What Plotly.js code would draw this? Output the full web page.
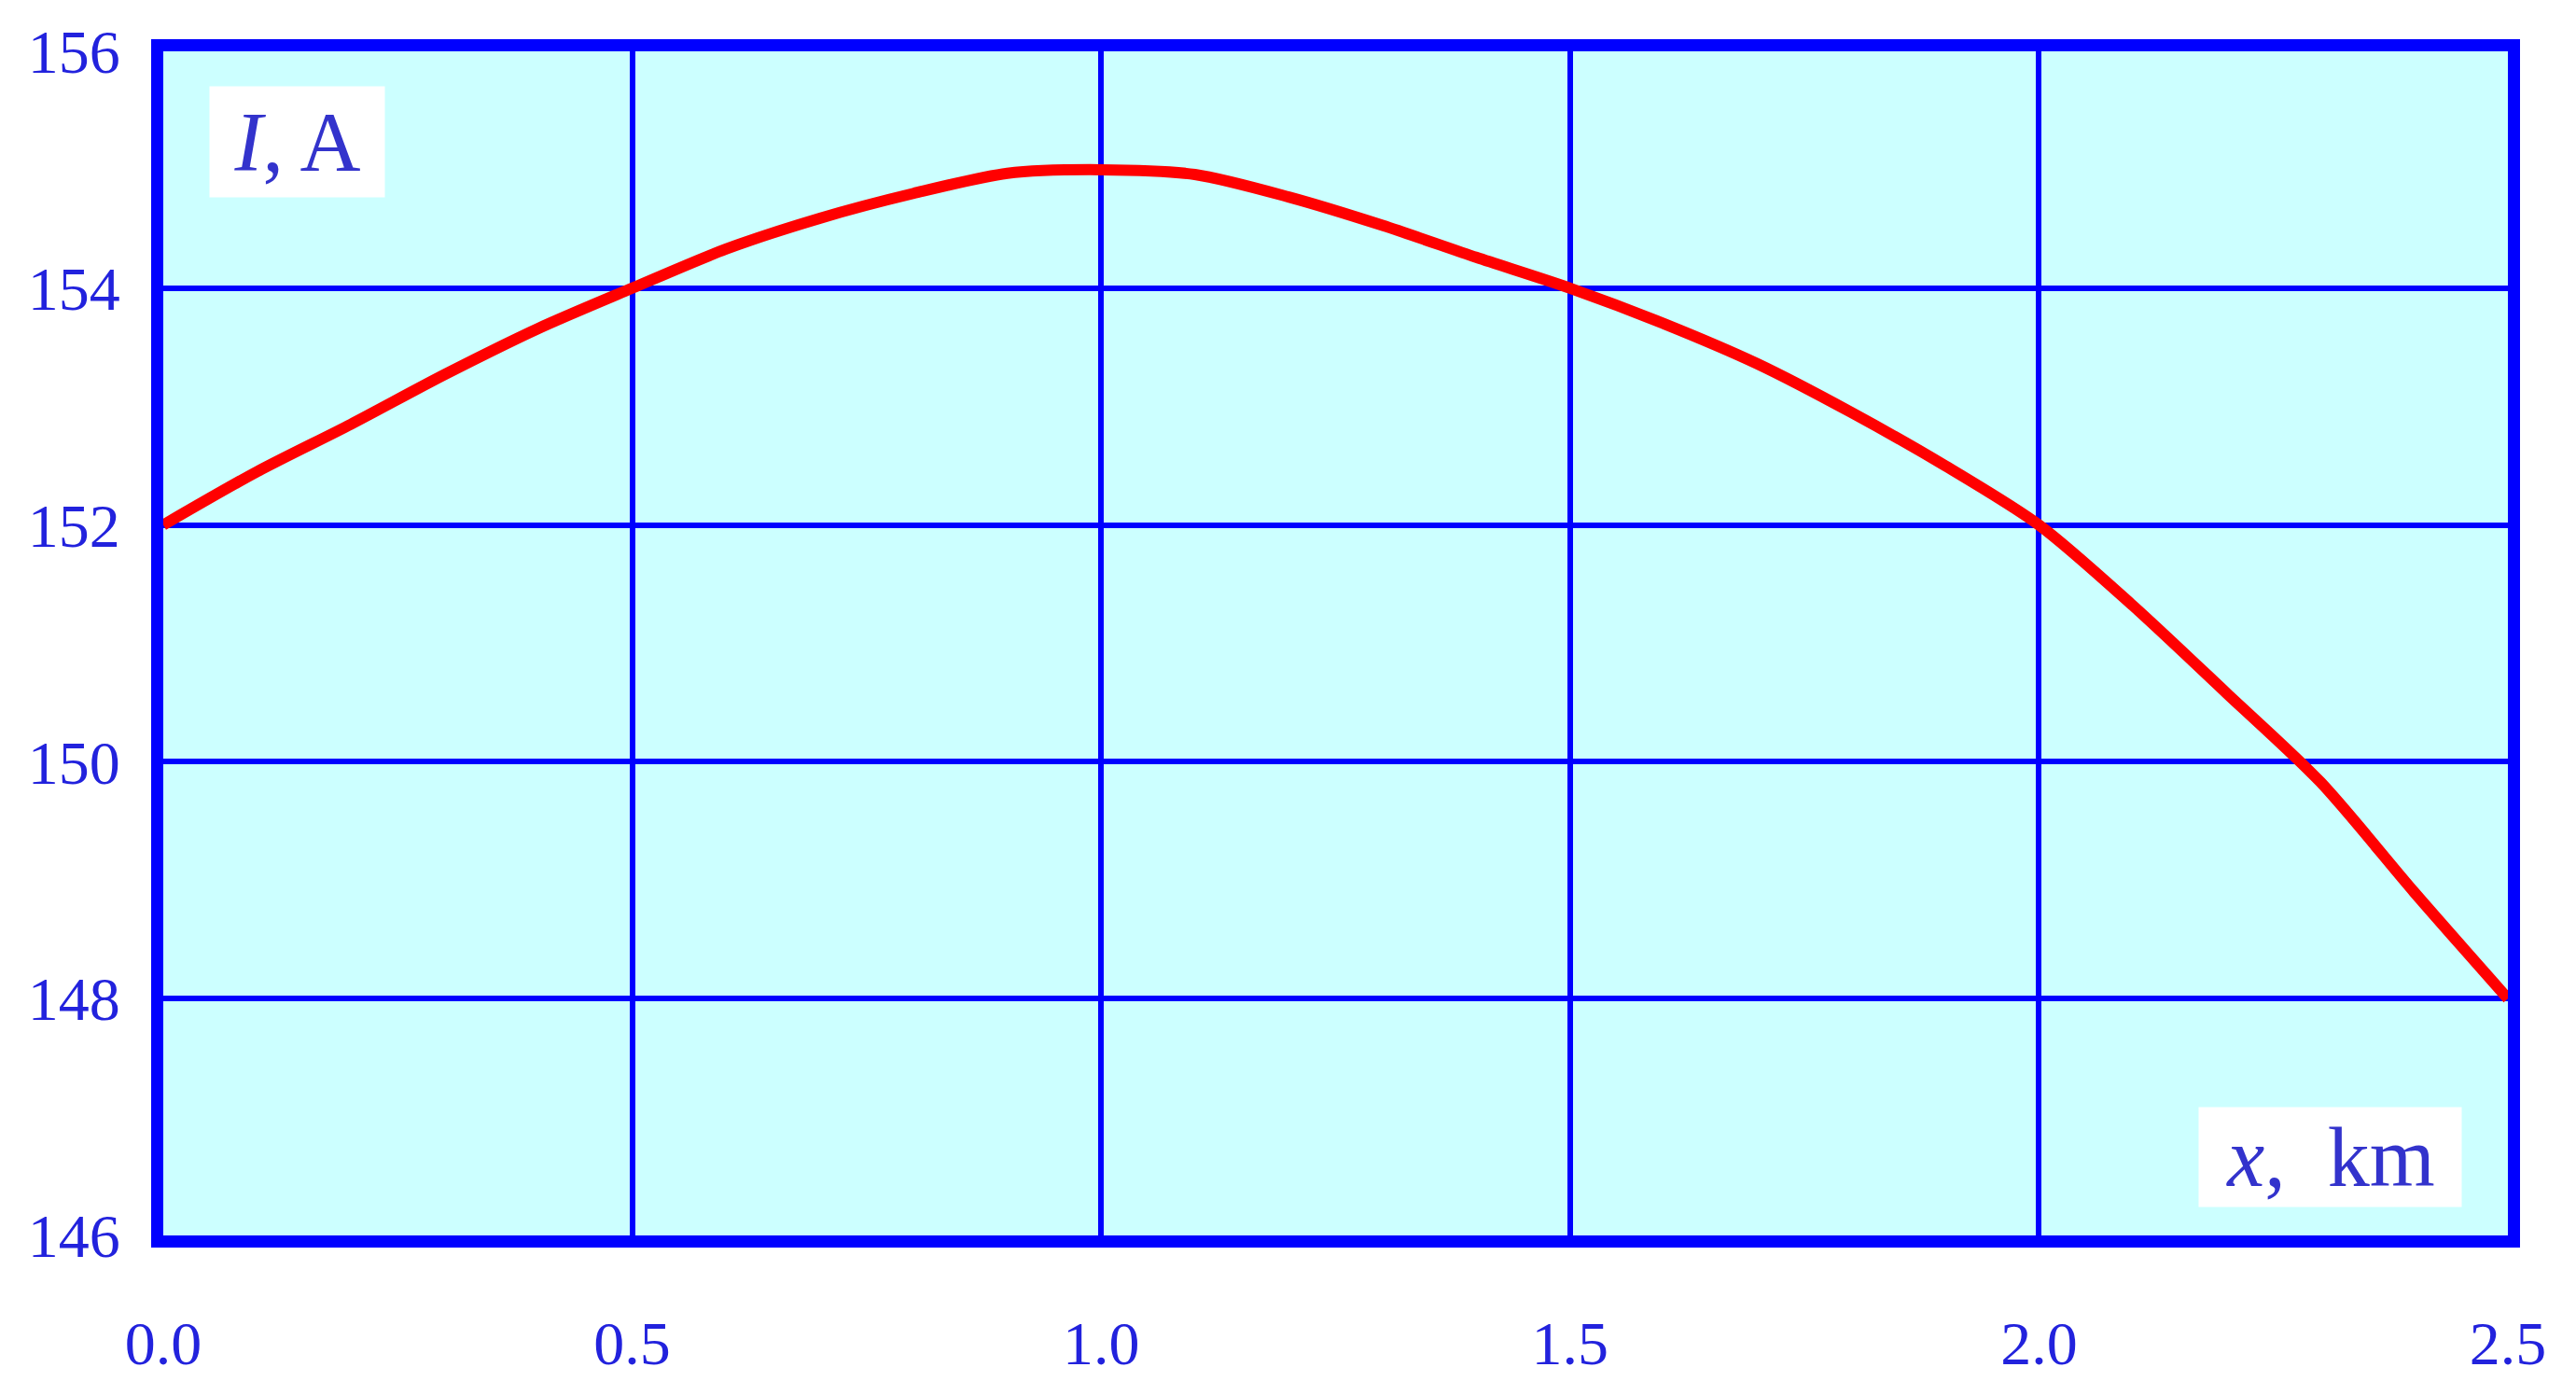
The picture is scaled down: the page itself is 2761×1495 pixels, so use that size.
<!DOCTYPE html>
<html>
<head>
<meta charset="utf-8">
<script src="https://cdn.plot.ly/plotly-3.0.1.min.js"></script>
<style>
  html, body { margin: 0; padding: 0; background: #ffffff; }
  #chart { width: 2761px; height: 1495px; }
</style>
</head>
<body>
<div id="chart"></div>
<script>
// Distance along the line, km
const xKm = [0.0, 0.1, 0.2, 0.3, 0.4, 0.5, 0.6, 0.7, 0.8, 0.9, 1.0, 1.1, 1.2,
             1.3, 1.4, 1.5, 1.6, 1.7, 1.8, 1.9, 2.0, 2.1, 2.2, 2.3, 2.4, 2.5];
// Current, A
const currentA = [152.00, 152.45, 152.85, 153.27, 153.66, 154.00, 154.33, 154.59, 154.80, 154.97, 155.00, 154.96, 154.77,
                  154.53, 154.26, 154.00, 153.70, 153.36, 152.95, 152.50, 152.00, 151.32, 150.58, 149.83, 148.90, 148.00];

const xTicks = [0.0, 0.5, 1.0, 1.5, 2.0, 2.5];
const xTickLabels = ['0.0', '0.5', '1.0', '1.5', '2.0', '2.5'];
const yTicks = [146, 148, 150, 152, 154, 156];
const yTickLabels = ['146', '148', '150', '152', '154', '156'];

const yLabel = '<i>I</i>, A';
const xLabel = '<i>x</i>,  km';

const blue = '#0000ff';
const tickFont = { family: 'Liberation Serif, Times New Roman, serif', size: 66, color: '#2222dd' };
const annFont = { family: 'Liberation Serif, Times New Roman, serif', size: 90, color: '#3333cc' };

const trace = {
  x: xKm,
  y: currentA,
  type: 'scatter',
  mode: 'lines',
  line: { color: '#ff0000', width: 12, shape: 'spline', smoothing: 0.8 },
  cliponaxis: false,
  hoverinfo: 'skip'
};

const layout = {
  width: 2761,
  height: 1495,
  margin: { l: 175, r: 73, t: 55, b: 171, pad: 0 },
  paper_bgcolor: '#ffffff',
  plot_bgcolor: '#ccffff',
  showlegend: false,
  xaxis: {
    range: [0, 2.5],
    tickvals: xTicks,
    ticktext: xTickLabels,
    tickfont: tickFont,
    showgrid: true,
    gridcolor: blue,
    gridwidth: 6,
    zeroline: false,
    showline: true,
    linecolor: blue,
    linewidth: 13,
    mirror: true,
    ticks: '',
    ticklabelstandoff: 46,
    layer: 'below traces',
    fixedrange: true
  },
  yaxis: {
    range: [146, 156],
    tickvals: yTicks,
    ticktext: yTickLabels,
    tickfont: tickFont,
    showgrid: true,
    gridcolor: blue,
    gridwidth: 6,
    zeroline: false,
    showline: true,
    linecolor: blue,
    linewidth: 13,
    mirror: true,
    ticks: '',
    ticklabelstandoff: 20,
    layer: 'below traces',
    fixedrange: true
  },
  annotations: [
    {
      xref: 'paper', yref: 'paper',
      x: 0.0571, y: 0.9236,
      xanchor: 'center', yanchor: 'middle',
      text: yLabel, showarrow: false,
      font: annFont,
      bgcolor: '#ffffff',
      borderpad: 0,
      width: 187, height: 118,
      align: 'center', valign: 'middle'
    },
    {
      xref: 'paper', yref: 'paper',
      x: 0.9242, y: 0.0662,
      xanchor: 'center', yanchor: 'middle',
      text: xLabel, showarrow: false,
      font: annFont,
      bgcolor: '#ffffff',
      borderpad: 0,
      width: 281, height: 106,
      align: 'center', valign: 'middle'
    }
  ]
};

Plotly.newPlot('chart', [trace], layout, { displayModeBar: false, staticPlot: true });
</script>
</body>
</html>
